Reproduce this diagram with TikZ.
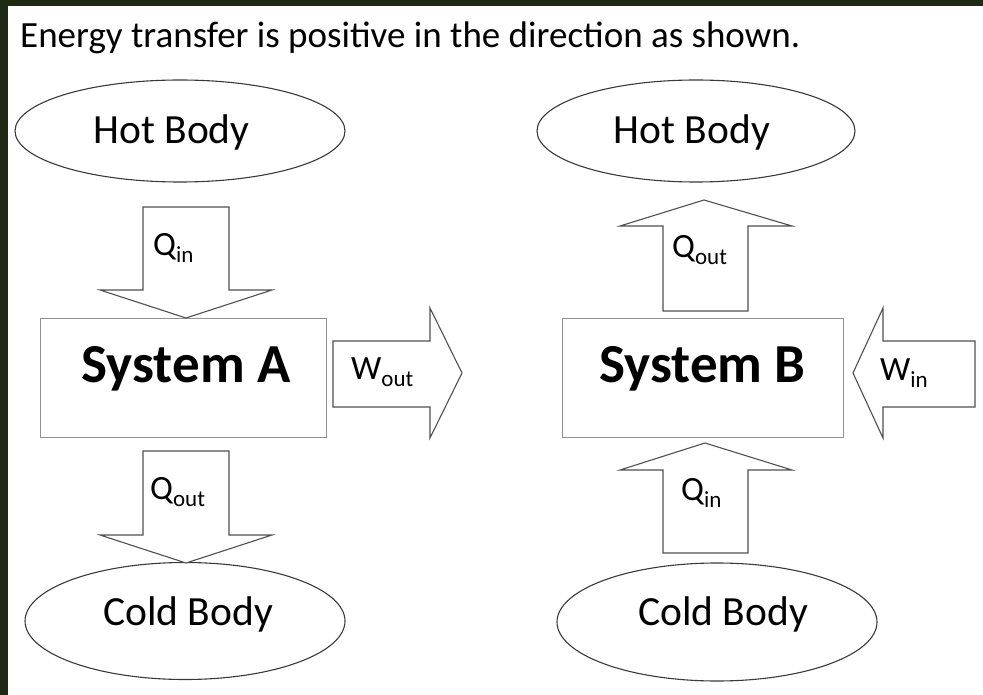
\documentclass[tikz,border=0pt]{standalone}
\usepackage{fontspec}
\setmainfont{Carlito}
\usetikzlibrary{shapes.geometric}
\definecolor{frame}{HTML}{1E2A14}
\definecolor{edge}{HTML}{3A3A3A}
\definecolor{boxedge}{HTML}{909090}
\definecolor{arredge}{HTML}{505050}
\newcommand{\qlab}[2]{{\fontsize{34}{34}\selectfont #1\raisebox{-7pt}{\fontsize{23}{23}\selectfont #2}}}
\begin{document}
\begin{tikzpicture}[x=1pt,y=-1pt,
  body/.style={draw=edge,line width=1.1pt,shape=ellipse,inner sep=0pt},
  bodytext/.style={anchor=base,inner sep=0pt,font=\fontsize{41.5}{41.5}\selectfont},
  sysbox/.style={draw=boxedge,line width=0.9pt,rectangle,inner sep=0pt},
  systext/.style={anchor=base,inner sep=0pt,font=\bfseries\fontsize{55}{55}\selectfont},
  blockarrow/.style={draw=arredge,line width=1.1pt,fill=white,line join=miter},
  lab/.style={inner sep=0pt,anchor=base west}]
\useasboundingbox (0,0) rectangle (983,695);
\fill[frame] (0,0) rectangle (983,695);
\fill[white] (8,6) rectangle (983,695);

\node[anchor=base west,inner sep=0pt,font=\fontsize{37}{37}\selectfont] (title) at (20,48) {Energy transfer is positive in the direction as shown.};

\node[body,minimum width=330pt,minimum height=102pt] (hotA) at (180,131) {};
\node[bodytext] (hotAt) at (171.5,144) {Hot Body};
\node[body,minimum width=318pt,minimum height=102pt] (hotB) at (696,131) {};
\node[bodytext] (hotBt) at (692,144) {Hot Body};
\node[body,minimum width=320pt,minimum height=117pt] (coldA) at (185,621) {};
\node[bodytext] (coldAt) at (188,625) {Cold Body};
\node[body,minimum width=320pt,minimum height=118pt] (coldB) at (717,622) {};
\node[bodytext] (coldBt) at (723,625) {Cold Body};

\node[sysbox,minimum width=286pt,minimum height=119pt] (sysA) at (183,377.5) {};
\node[systext] (sysAt) at (186,382) {System A};
\node[sysbox,minimum width=281pt,minimum height=119pt] (sysB) at (702.5,377.5) {};
\node[systext] (sysBt) at (702.5,382) {System B};

% Q_in into system A (down)
\draw[blockarrow] (143,207) -- (229,207) -- (229,290) -- (272,290) -- (186,318) -- (100,290) -- (143,290) -- cycle;
\node[lab] (qinA) at (153,255) {\qlab{Q}{in}};
% Q_out from system A (down)
\draw[blockarrow] (143,451) -- (229,451) -- (229,535) -- (272,535) -- (186,563) -- (100,535) -- (143,535) -- cycle;
\node[lab] (qoutA) at (150,499) {\qlab{Q}{out}};
% W_out (right)
\draw[blockarrow] (333,341) -- (430,341) -- (430,308) -- (462,373) -- (430,438) -- (430,407) -- (333,407) -- cycle;
\node[lab] (woutA) at (351,379) {\qlab{W}{out}};

% Q_out from system B (up)
\draw[blockarrow] (663,311) -- (748,311) -- (748,226) -- (792,226) -- (704,200) -- (620,226) -- (663,226) -- cycle;
\node[lab] (qoutB) at (672,258) {\qlab{Q}{out}};
% Q_in into system B (up)
\draw[blockarrow] (663,553) -- (748,553) -- (748,470) -- (792,470) -- (705,443) -- (620,470) -- (663,470) -- cycle;
\node[lab] (qinB) at (681,500) {\qlab{Q}{in}};
% W_in (left)
\draw[blockarrow] (975,341) -- (883,341) -- (883,308) -- (853,373) -- (883,438) -- (883,407) -- (975,407) -- cycle;
\node[lab] (winB) at (880,380) {\qlab{W}{in}};
\end{tikzpicture}
\end{document}
